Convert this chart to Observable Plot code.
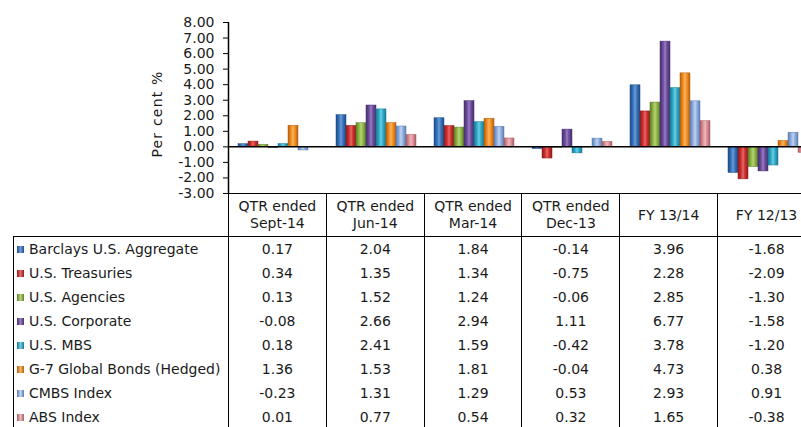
<!DOCTYPE html>
<html><head><meta charset="utf-8">
<script src="https://cdn.jsdelivr.net/npm/d3@7"></script>
<script src="https://cdn.jsdelivr.net/npm/@observablehq/plot@0.6"></script>
<style>
html,body{margin:0;padding:0;background:#fff;overflow:hidden;}
#wrap{position:relative;width:816px;height:427px;overflow:hidden;font-family:"DejaVu Sans",sans-serif;color:#1a1a1a;}
#wrap svg{position:absolute;left:0;top:0;}
#tbl{position:absolute;left:13px;top:193px;border-collapse:collapse;table-layout:fixed;font-size:14px;color:#1a1a1a;}
#tbl td{padding:0;text-align:center;white-space:nowrap;vertical-align:middle;}
#tbl tr.head td{height:42px;line-height:17px;white-space:pre-line;}
#tbl tr.head td.c{border-top:1.5px solid #000;border-left:1.5px solid #000;border-right:1.5px solid #000;}
#tbl tr.body td{height:24.14px;line-height:17px;border-left:1.5px solid #000;border-right:1.5px solid #000;}
#tbl tr.first td{border-top:1.5px solid #000;}
#tbl td.lab{text-align:left;padding-left:3px;}
.sw{display:inline-block;width:7px;height:7px;margin-right:5px;vertical-align:1px;}
</style>
</head><body>
<div id="wrap"></div>
<script>
// ---- data ----
const periods = ["QTR ended\nSept-14", "QTR ended\nJun-14", "QTR ended\nMar-14", "QTR ended\nDec-13", "FY 13/14", "FY 12/13"];
const series = ["Barclays U.S. Aggregate", "U.S. Treasuries", "U.S. Agencies", "U.S. Corporate", "U.S. MBS", "G-7 Global Bonds (Hedged)", "CMBS Index", "ABS Index"];
const barclays = [0.17, 2.04, 1.84, -0.14, 3.96, -1.68];
const treasuries = [0.34, 1.35, 1.34, -0.75, 2.28, -2.09];
const agencies = [0.13, 1.52, 1.24, -0.06, 2.85, -1.30];
const corporate = [-0.08, 2.66, 2.94, 1.11, 6.77, -1.58];
const mbs = [0.18, 2.41, 1.59, -0.42, 3.78, -1.20];
const g7 = [1.36, 1.53, 1.81, -0.04, 4.73, 0.38];
const cmbs = [-0.23, 1.31, 1.29, 0.53, 2.93, 0.91];
const abs = [0.01, 0.77, 0.54, 0.32, 1.65, -0.38];
const yTicks = [-3, -2, -1, 0, 1, 2, 3, 4, 5, 6, 7, 8];
const yLabel = "Per cent %";

// ---- styles ----
const baseColors = ["#3572BA", "#CC2F2E", "#8EB545", "#6C4C9B", "#2EAAC8", "#F28C1F", "#8FAEDF", "#DC9097"];
const darkColors = ["#1E4C88", "#8F1C1E", "#5E7D29", "#45306B", "#1A7A93", "#B5600C", "#5D7DB3", "#A85D66"];
const lightColors = ["#6E9BD6", "#E86A66", "#B6D377", "#9A7CC4", "#6FCDE3", "#F8B464", "#C0D3F0", "#EDB9BE"];

const allValues = [barclays, treasuries, agencies, corporate, mbs, g7, cmbs, abs];
const data = [];
series.forEach((s, i) => periods.forEach((p, j) => data.push({series: s, si: i, period: p, value: allValues[i][j]})));

const W = 816, ML = 228, COLW = 98, TOP = 22, AXB = 193, H = 237;

const main = Plot.plot({
  width: W, height: H, marginLeft: ML, marginRight: W - ML - COLW * periods.length, marginTop: TOP, marginBottom: H - AXB,
  style: {fontFamily: "DejaVu Sans", fontSize: "14px", background: "transparent"},
  fx: {domain: periods, paddingInner: 0.133, paddingOuter: 0.0665, axis: null, label: null},
  x: {domain: series, padding: 0, axis: null},
  y: {domain: [-3, 8], axis: null},
  color: {type: "identity"},
  marks: [
    Plot.barY(data, {fx: "period", x: "series", y: "value",
      fill: d => `url(#grad${d.si})`, stroke: d => darkColors[d.si], strokeWidth: 0.5})
  ]
});

const axis = Plot.plot({
  width: W, height: H, marginLeft: ML, marginRight: 0, marginTop: TOP, marginBottom: H - AXB,
  style: {fontFamily: "DejaVu Sans", fontSize: "14px", background: "transparent", color: "#1a1a1a"},
  x: {domain: [0, 1], axis: null},
  y: {domain: [-3, 8], label: null, axis: null},
  marks: [
    Plot.axisY({ticks: yTicks, tickFormat: d => d.toFixed(2), tickSize: 5, tickPadding: 9, stroke: "#000",
      label: null, fontSize: 14}),
    Plot.text([yLabel], {frameAnchor: "left", textAnchor: "middle", rotate: -90, dx: -71, dy: 6, fontSize: 14, fill: "#1a1a1a", className: "ylab"}),
    Plot.ruleX([0], {y1: -3, y2: 8, stroke: "#000", strokeWidth: 1.5}),
    Plot.ruleY([0], {stroke: "#000", strokeWidth: 1.5})
  ]
});

const wrap = document.getElementById("wrap");
wrap.appendChild(main);
wrap.appendChild(axis);
d3.select(axis).selectAll(".ylab text").attr("letter-spacing", "1.2");

// gradients for cylinder-like bars
const defs = d3.select(main).insert("defs", ":first-child");
baseColors.forEach((c, i) => {
  const g = defs.append("linearGradient").attr("id", `grad${i}`).attr("x1", "0").attr("x2", "1").attr("y1", "0").attr("y2", "0");
  g.append("stop").attr("offset", "0%").attr("stop-color", darkColors[i]);
  g.append("stop").attr("offset", "30%").attr("stop-color", baseColors[i]);
  g.append("stop").attr("offset", "50%").attr("stop-color", lightColors[i]);
  g.append("stop").attr("offset", "70%").attr("stop-color", baseColors[i]);
  g.append("stop").attr("offset", "100%").attr("stop-color", darkColors[i]);
});

// data table
const tbl = document.createElement("table");
tbl.id = "tbl";
let html = `<colgroup><col style="width:${ML - 13}px">` + periods.map(() => `<col style="width:${COLW}px">`).join("") + `</colgroup>`;
html += `<tr class="head"><td></td>` + periods.map(p => `<td class="c">${p}</td>`).join("") + `</tr>`;
series.forEach((s, i) => {
  html += `<tr class="body${i === 0 ? " first" : ""}"><td class="lab"><span class="sw" style="background:linear-gradient(90deg,${darkColors[i]},${lightColors[i]},${darkColors[i]})"></span>${s}</td>` +
    allValues[i].map(v => `<td>${v.toFixed(2)}</td>`).join("") + `</tr>`;
});
tbl.innerHTML = html;
wrap.appendChild(tbl);
</script>
</body></html>
